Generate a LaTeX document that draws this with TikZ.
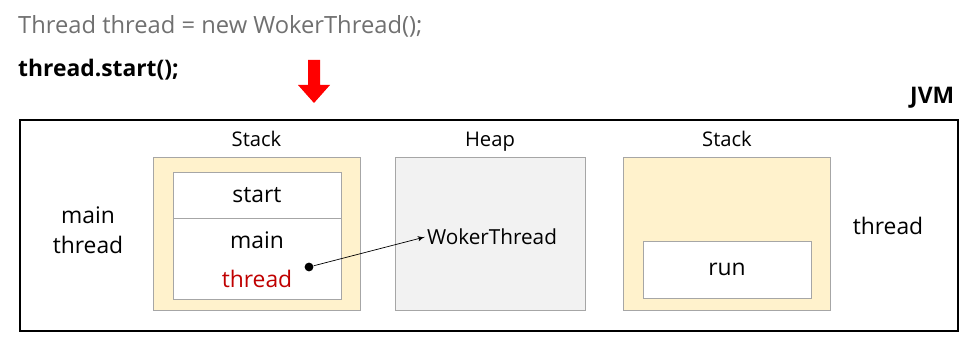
\documentclass[tikz,border=0pt]{standalone}
\usepackage{fontspec}
\setmainfont{Open Sans}
\usetikzlibrary{arrows,positioning}

\definecolor{stackfill}{HTML}{FFF2CC}
\definecolor{heapfill}{HTML}{F2F2F2}
\definecolor{boxline}{HTML}{A6A6A6}
\definecolor{codegray}{HTML}{707070}
\definecolor{refred}{HTML}{C00000}

\begin{document}
\begin{tikzpicture}[x=0.02cm,y=-0.02cm,>=latex',node distance=0cm]

    \tikzstyle{area}=[rectangle,draw=boxline,minimum width=4.14cm,minimum height=3.06cm]
    \tikzstyle{frame}=[rectangle,draw=boxline,fill=white,minimum width=3.36cm,font=\fontsize{13}{15}\selectfont]
    \tikzstyle{title}=[font=\fontsize{11.5}{13}\selectfont,text height=1.6ex,text depth=0.4ex]
    \tikzstyle{side}=[font=\fontsize{13}{16}\selectfont,align=center]

    \useasboundingbox (0,0) rectangle (968,347);

    % code lines
    \node [anchor=west,text=codegray,font=\fontsize{13.5}{16}\selectfont] (l1) at (12,26) {Thread thread = new WokerThread();};
    \node [anchor=west,font=\bfseries\fontsize{13}{16}\selectfont] (l2) at (12,70) {thread.start();};
    \fill [red] (308,60) -- (320,60) -- (320,85) -- (330,85) -- (314,103) -- (298,85) -- (308,85) -- cycle;

    % JVM
    \node [rectangle,draw,line width=1.2pt,minimum width=18.76cm,minimum height=4.22cm] (jvm) at (489,225.5) {};
    \node [anchor=south east,font=\bfseries\fontsize{13}{15}\selectfont,inner sep=2pt] (jvml) at (958,112) {JVM};

    % main thread stack
    \node [area,fill=stackfill] (s1) at (256.5,233.5) {};
    \node [title,above=of s1] (s1l) {Stack};
    \node [frame,minimum height=0.92cm] (start) at (257,195) {start};
    \node [frame,minimum height=1.62cm] (mainf) at (257,258.5) {};
    \node [frame,draw=none,fill=none,inner sep=0pt] (main) at (257,240) {main};
    \node [frame,draw=none,fill=none,inner sep=0pt,text=refred] (ref) at (257,279) {thread};
    \node [circle,fill,inner sep=0pt,minimum size=5pt] (dot) at (309,267) {};
    \node [side] (mt) at (88,230) {main\\[1pt]thread};

    % heap
    \node [area,fill=heapfill,minimum width=3.8cm] (heap) at (490,233.5) {};
    \node [title,above=of heap] (heapl) {Heap};
    \node [side,inner sep=1pt,font=\fontsize{11.8}{14}\selectfont] (obj) at (492,237) {WokerThread};

    % new thread stack
    \node [area,fill=stackfill] (s2) at (727,233.5) {};
    \node [title,above=of s2] (s2l) {Stack};
    \node [frame,minimum height=1.14cm] (run) at (727,269.5) {run};
    \node [side] (nt) at (888,226) {thread};

    \draw [->,thin] (dot) -- (obj.west);

\end{tikzpicture}
\end{document}
